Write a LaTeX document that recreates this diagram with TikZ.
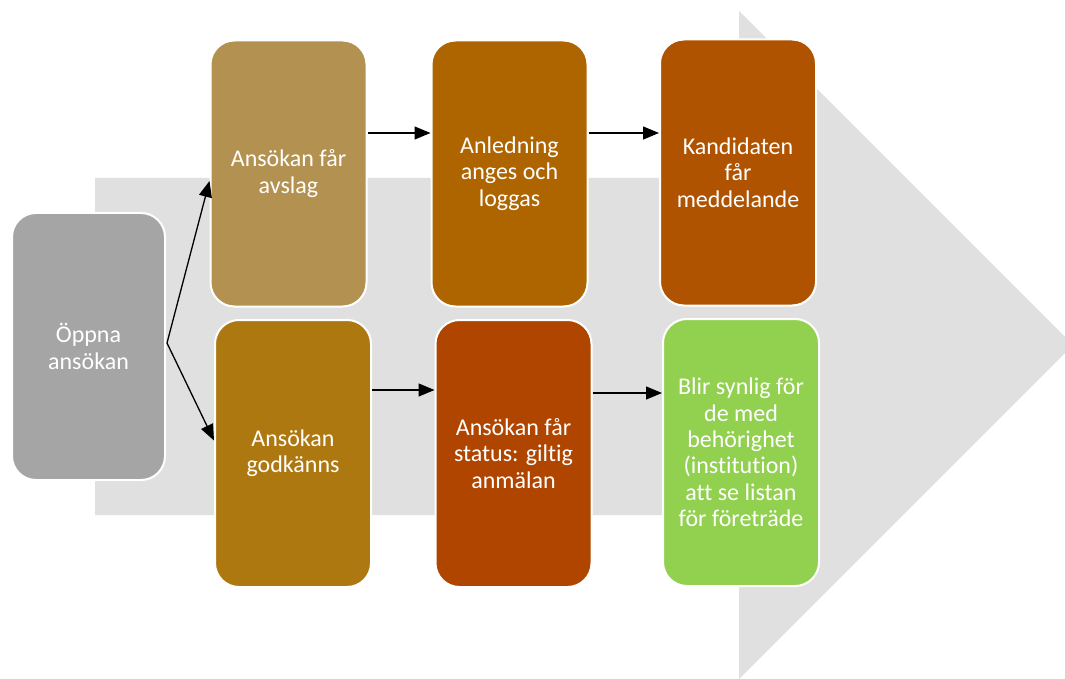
\documentclass[tikz,border=0pt]{standalone}
\usepackage{fontspec}
\setmainfont{Carlito}[Ligatures=NoCommon]
\usetikzlibrary{shapes,shapes.geometric,calc,arrows.meta}

\definecolor{bggrey}{HTML}{E0E0E0}
\definecolor{opengrey}{HTML}{A5A5A5}
\definecolor{rejectbrown}{HTML}{B39150}
\definecolor{reasonbrown}{HTML}{AE6500}
\definecolor{notifybrown}{HTML}{B05300}
\definecolor{approvebrown}{HTML}{AE7810}
\definecolor{statusbrown}{HTML}{B04500}
\definecolor{visiblegreen}{HTML}{92D050}

\begin{document}
\begin{tikzpicture}[x=1pt,y=-1pt]
				\tikzstyle{stepbox}=[rectangle, rounded corners=24pt, draw=white, line width=2pt, text=white, align=center, minimum width=156pt, minimum height=266pt, font=\fontsize{24}{26.35}\selectfont]
				\tikzstyle{flow}=[draw=black, line width=1.3pt, -{Triangle[length=16pt,width=13pt]}]
				\useasboundingbox (0,0) rectangle (1065,679);
				\fill[bggrey] (95,178) -- (739,178) -- (739,11) -- (1073,345) -- (739,679) -- (739,515) -- (95,515) -- cycle;
				\node[stepbox, fill=opengrey, minimum width=153pt, minimum height=267pt] (open) at (88.5,346.5) {Öppna\\ansökan};
				\node[stepbox, fill=rejectbrown] (reject) at (288.5,173.5) {Ansökan får\\avslag};
				\node[stepbox, fill=reasonbrown] (reason) at (509.5,173.5) {Anledning\\anges och\\loggas};
				\node[stepbox, fill=notifybrown] (notify) at (738,172.5) {Kandidaten\\får\\meddelande};
				\node[stepbox, fill=approvebrown, minimum height=267pt] (approve) at (293,453.5) {Ansökan\\godkänns};
				\node[stepbox, fill=statusbrown, minimum height=267pt] (status) at (513.5,453.5) {Ansökan får\\status: giltig\\anmälan};
				\node[stepbox, fill=visiblegreen, minimum height=267pt] (visible) at (741,452.5) {Blir synlig för\\de med\\behörighet\\(institution)\\att se listan\\för företräde};
				\coordinate (fork) at ($(open.east)+(1,-3.5)$);
				\draw[flow] (fork) -- ([yshift=-7.5pt]reject.west);
				\draw[flow] (fork) -- ([yshift=13pt]approve.west);
				\draw[flow] ([yshift=40.5pt]reject.east) -- ([yshift=40.5pt]reason.west);
				\draw[flow] ([yshift=40.5pt]reason.east) -- ([yshift=39.5pt]notify.west);
				\draw[flow] ([yshift=63.5pt]approve.east) -- ([yshift=63.5pt]status.west);
				\draw[flow] ([yshift=60.5pt]status.east) -- ([yshift=59.5pt]visible.west);
			\end{tikzpicture}
\end{document}
